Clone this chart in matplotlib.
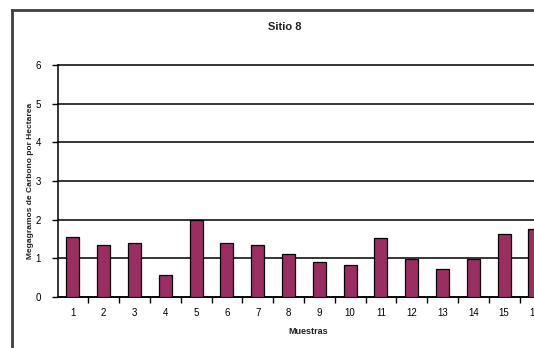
import matplotlib
matplotlib.use('Agg')
import matplotlib.pyplot as plt
from matplotlib.lines import Line2D

plt.rcParams['font.family'] = ['Liberation Sans', 'DejaVu Sans']

# Datos por muestra
muestras = list(range(1, 17))
carbono = [1.54, 1.33, 1.39, 0.55, 2.0, 1.38, 1.33, 1.12, 0.91, 0.82,
           1.51, 0.97, 0.72, 0.98, 1.63, 1.76]
yticks = [0, 1, 2, 3, 4, 5, 6]

W, H = 534, 348
fig = plt.figure(figsize=(W / 100, H / 100), dpi=100)
fig.patch.set_facecolor('white')

# El area del grafico sigue a la derecha, fuera de la figura
ax = fig.add_axes([57.5 / W, (H - 296.7) / H, 16 * 30.8 / W, 231.4 / H])
ax.bar(muestras, carbono, width=0.42, color='#9a2e62', edgecolor='black',
       linewidth=0.9, zorder=3)

ax.set_xlim(0.5, 16.5)
ax.set_ylim(0, 6)
ax.set_yticks(yticks)
ax.yaxis.grid(True, color='black', linewidth=1.1, zorder=1)
for gl in ax.yaxis.get_gridlines():
    gl.set_clip_on(False)

ax.set_xticks(muestras)
ax.set_xticks([m + 0.5 for m in muestras], minor=True)
ax.tick_params(axis='x', which='major', length=0, pad=8, labelsize=7)
ax.tick_params(axis='x', which='minor', length=4, width=1, direction='out')
ax.tick_params(axis='y', length=4, width=1, direction='out', pad=8, labelsize=7)

for side in ['top', 'right']:
    ax.spines[side].set_visible(False)
for side in ['left', 'bottom']:
    ax.spines[side].set_color('black')
    ax.spines[side].set_linewidth(1.1)

fig.text(285 / W, 1 - 27 / H, 'Sitio 8', ha='center', va='center',
         fontsize=8, fontweight='bold', color='#222222')
fig.text(308 / W, 1 - 332 / H, 'Muestras', ha='center', va='center',
         fontsize=6.5, fontweight='bold', color='#222222')
fig.text(31 / W, 1 - 181 / H, 'Megagramos de Carbono por Hectarea',
         ha='center', va='center', rotation=90, fontsize=6,
         fontweight='bold', color='#222222')

# Marco exterior del grafico
fig.add_artist(Line2D([11.5 / W, 11.5 / W], [0, 1 - 10 / H],
                      color='#404040', linewidth=2))
fig.add_artist(Line2D([11.5 / W, 1], [1 - 10 / H, 1 - 10 / H],
                      color='#404040', linewidth=2))

fig.savefig('out.png', dpi=100)
